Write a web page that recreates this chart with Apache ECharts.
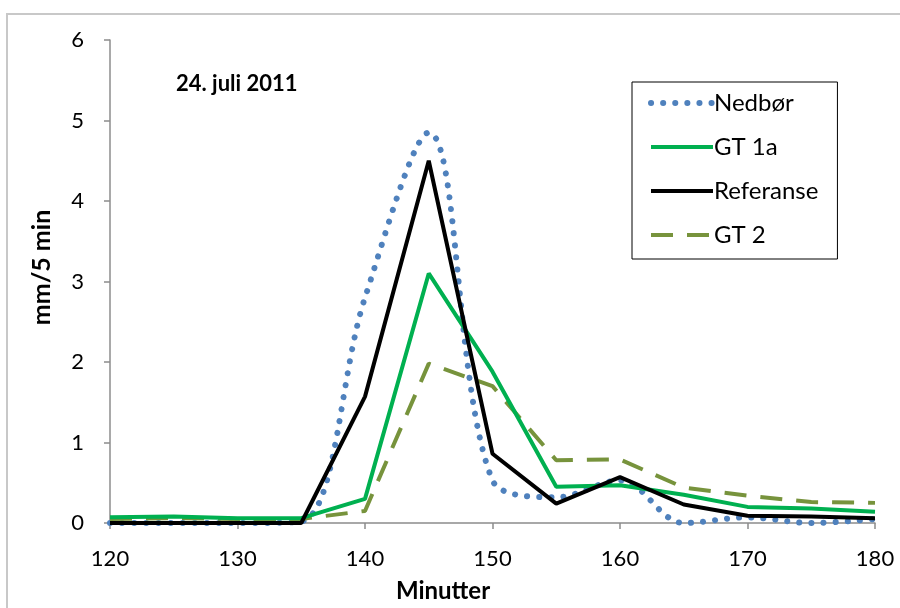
<!DOCTYPE html>
<html>
<head>
<meta charset="utf-8">
<script src="https://cdn.jsdelivr.net/npm/echarts@6/dist/echarts.min.js"></script>
<style>
  html, body { margin: 0; padding: 0; background: #fff; }
  #chart { width: 900px; height: 608px; }
</style>
</head>
<body>
<div id="chart"></div>
<script>
var minutes = [120, 125, 130, 135, 140, 145, 150, 155, 160, 165, 170, 175, 180];
var nedbor = [0, 0, 0, 0.02, 2.8, 4.85, 0.53, 0.32, 0.53, 0.0, 0.07, 0.0, 0.05];
var gt1a = [0.07, 0.08, 0.06, 0.06, 0.3, 3.1, 1.88, 0.45, 0.47, 0.35, 0.2, 0.18, 0.14];
var referanse = [0, 0, 0, 0, 1.57, 4.5, 0.86, 0.24, 0.57, 0.23, 0.09, 0.08, 0.06];
var gt2 = [0.05, 0.06, 0.05, 0.05, 0.15, 1.98, 1.7, 0.78, 0.79, 0.44, 0.34, 0.26, 0.25];

function pairs(vals) {
    return minutes.map(function (m, i) { return [m, vals[i]]; });
}

var chart = echarts.init(document.getElementById('chart'));
var font = 'Lato, "Open Sans", sans-serif';

var option = {
    animation: false,
    textStyle: { fontFamily: font },
    graphic: [{
        type: 'rect',
        shape: { x: 7, y: 14, width: 900, height: 600 },
        style: { fill: 'none', stroke: '#c8c8c8', lineWidth: 2 },
        silent: true
    }],
    title: {
        text: '24. juli 2011',
        left: 171,
        top: 68,
        textStyle: { fontFamily: font, fontSize: 22, fontWeight: 'bold', color: '#000' }
    },
    legend: {
        orient: 'vertical',
        left: 632,
        top: 82,
        itemWidth: 62,
        itemHeight: 8,
        itemGap: 20,
        padding: [9, 19, 12, 16],
        borderColor: '#000',
        borderWidth: 1,
        itemStyle: { opacity: 0, borderWidth: 0 },
        lineStyle: { width: 'inherit' },
        textStyle: { fontFamily: font, fontSize: 24, color: '#000', padding: [0, 0, 0, -4] },
        data: ['Nedbør', 'GT 1a', 'Referanse', 'GT 2']
    },
    grid: { left: 110, right: 25, top: 40, bottom: 85 },
    xAxis: {
        type: 'value',
        min: 120,
        max: 180,
        interval: 10,
        name: 'Minutter',
        nameLocation: 'middle',
        nameGap: 56,
        nameTextStyle: { fontFamily: font, fontSize: 24, fontWeight: 'bold', color: '#000', padding: [0, 99, 0, 0] },
        axisLine: { lineStyle: { color: '#8c8c8c', width: 1.5 } },
        axisTick: { show: true, length: 6, lineStyle: { color: '#8c8c8c', width: 1.5 } },
        axisLabel: { fontFamily: font, fontSize: 22, color: '#000', margin: 25 },
        splitLine: { show: false }
    },
    yAxis: {
        type: 'value',
        min: 0,
        max: 6,
        interval: 1,
        name: 'mm/5 min',
        nameLocation: 'middle',
        nameGap: 56,
        nameTextStyle: { fontFamily: font, fontSize: 25, fontWeight: 'bold', color: '#000', padding: [0, 0, 0, 28] },
        axisLine: { show: true, lineStyle: { color: '#8c8c8c', width: 1.5 } },
        axisTick: { show: true, length: 6, lineStyle: { color: '#8c8c8c', width: 1.5 } },
        axisLabel: { fontFamily: font, fontSize: 22, color: '#000', margin: 26 },
        splitLine: { show: false }
    },
    series: [
        {
            name: 'Nedbør',
            type: 'line',
            data: pairs(nedbor),
            smooth: 0.35,
            symbol: 'none',
            z: 1,
            itemStyle: { color: '#4f81bd' },
            lineStyle: { color: '#4f81bd', width: 6, type: [0.1, 12], cap: 'round' }
        },
        {
            name: 'GT 1a',
            type: 'line',
            data: pairs(gt1a),
            symbol: 'none',
            z: 3,
            itemStyle: { color: '#00b050' },
            lineStyle: { color: '#00b050', width: 4 }
        },
        {
            name: 'Referanse',
            type: 'line',
            data: pairs(referanse),
            symbol: 'none',
            z: 4,
            itemStyle: { color: '#000' },
            lineStyle: { color: '#000', width: 4 }
        },
        {
            name: 'GT 2',
            type: 'line',
            data: pairs(gt2),
            symbol: 'none',
            z: 2,
            itemStyle: { color: '#77933c' },
            lineStyle: { color: '#77933c', width: 4, type: [22, 14] }
        }
    ]
};

chart.setOption(option);
</script>
</body>
</html>
